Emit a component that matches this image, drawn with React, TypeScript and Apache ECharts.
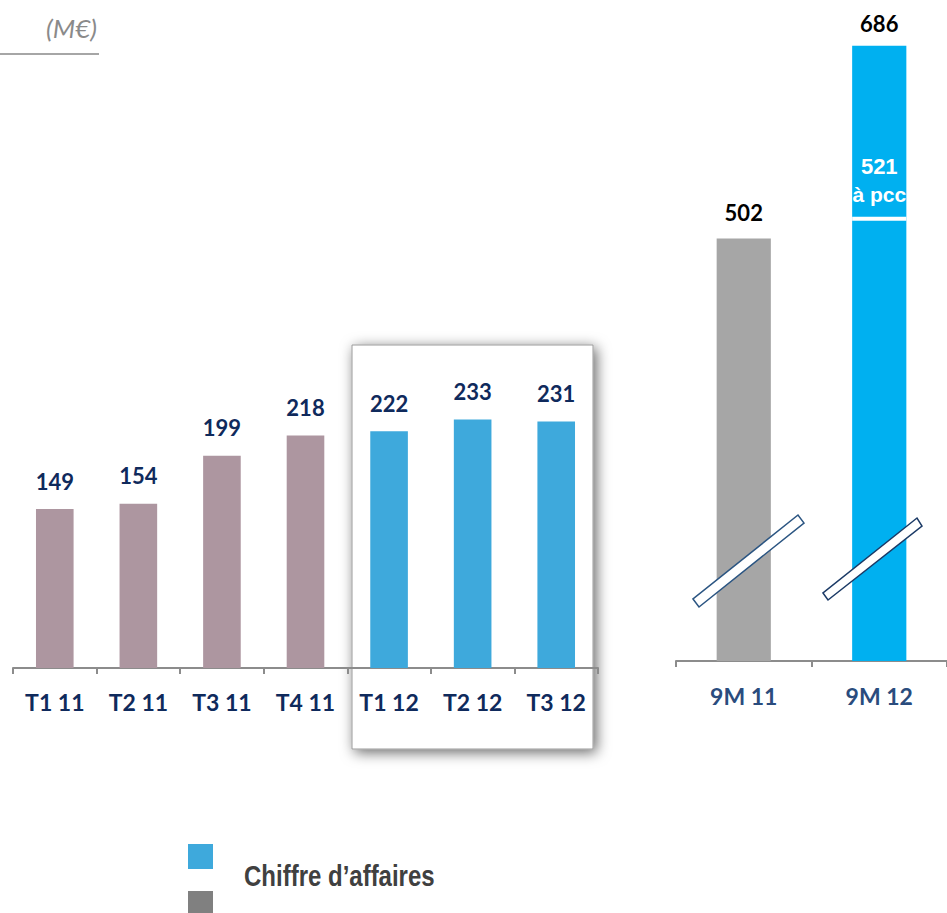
import React, { useEffect, useRef } from "react";
import * as echarts from "echarts";

// ---- Data ----
const quarterCategories = ["T1 11", "T2 11", "T3 11", "T4 11", "T1 12", "T2 12", "T3 12"];
const quarterValues = [149, 154, 199, 218, 222, 233, 231];
const ninMonthCategories = ["9M 11", "9M 12"];
const nineMonthValues = [502, 686];
const pccCategory = ["9M 12"];
const pccValues = [521];
const pccLabel = "à pcc";
const unitLabel = "(M€)";
const legendLabel = "Chiffre d’affaires";

const MAUVE = "#AD96A0";
const BLUE_Q = "#3EA9DC";
const GRAY_9M = "#A6A6A6";
const CYAN_9M = "#00B0F0";
const NAVY = "#0F2A5C";

export default function App() {
  const ref = useRef<HTMLDivElement>(null);

  useEffect(() => {
    if (!ref.current) return;
    const chart = echarts.init(ref.current, null, { renderer: "svg" });

    const labelFont = { fontFamily: "Lato", fontWeight: "bold" as const };

    const option: any = {
      animation: false,
      backgroundColor: "#ffffff",
      grid: [
        { left: 13, width: 585, top: 28, bottom: 245 },
        { left: 676, width: 272, top: 31, bottom: 252 },
      ],
      xAxis: [
        {
          gridIndex: 0,
          type: "category",
          data: quarterCategories,
          axisLine: { lineStyle: { color: "#8C8C8C", width: 2 } },
          axisTick: { show: true, length: 6, lineStyle: { color: "#8C8C8C", width: 2 } },
          axisLabel: { color: NAVY, fontSize: 23, margin: 22, ...labelFont },
        },
        {
          gridIndex: 1,
          type: "category",
          data: ninMonthCategories,
          axisLine: { lineStyle: { color: "#8C8C8C", width: 2 } },
          axisTick: { show: true, length: 6, lineStyle: { color: "#8C8C8C", width: 2 } },
          axisLabel: { color: "#2A4C7D", fontSize: 23, margin: 23, ...labelFont },
        },
      ],
      yAxis: [
        { gridIndex: 0, type: "value", min: 0, max: 600, show: false, splitLine: { show: false } },
        { gridIndex: 1, type: "value", min: 99, max: 700, show: false, splitLine: { show: false } },
      ],
      series: [
        {
          type: "bar",
          xAxisIndex: 0,
          yAxisIndex: 0,
          barWidth: "45%",
          data: quarterValues.map((v, i) => ({
            value: v,
            itemStyle: { color: i < 4 ? MAUVE : BLUE_Q },
          })),
          label: {
            show: true,
            position: "top",
            distance: 17,
            color: NAVY,
            fontSize: 22,
            ...labelFont,
          },
          z: 3,
        },
        {
          type: "bar",
          xAxisIndex: 1,
          yAxisIndex: 1,
          barWidth: "40%",
          data: nineMonthValues.map((v, i) => ({
            value: v,
            itemStyle: { color: i === 0 ? GRAY_9M : CYAN_9M },
            label: { distance: i === 0 ? 15 : 11 },
          })),
          label: {
            show: true,
            position: "top",
            distance: 13,
            color: "#000000",
            fontSize: 22,
            ...labelFont,
          },
          z: 3,
        },
        {
          type: "custom",
          xAxisIndex: 1,
          yAxisIndex: 1,
          data: pccCategory.map((c, i) => [c, pccValues[i]]),
          z: 5,
          renderItem: (params: any, api: any) => {
            const p = api.coord([api.value(0), api.value(1)]);
            const band = api.size([1, 0])[0];
            const w = band * 0.4;
            return {
              type: "group",
              children: [
                {
                  type: "rect",
                  shape: { x: p[0] - w / 2, y: p[1] - 2, width: w, height: 4 },
                  style: { fill: "#ffffff" },
                },
                {
                  type: "text",
                  x: p[0],
                  y: p[1] - 52,
                  style: {
                    text: String(pccValues[params.dataIndex]),
                    fill: "#ffffff",
                    font: 'bold 22px "Liberation Sans", Arial, sans-serif',
                    align: "center",
                    verticalAlign: "middle",
                  },
                },
                {
                  type: "text",
                  x: p[0],
                  y: p[1] - 24,
                  style: {
                    text: pccLabel,
                    fill: "#ffffff",
                    font: 'bold 21px "Liberation Sans", Arial, sans-serif',
                    align: "center",
                    verticalAlign: "middle",
                  },
                },
              ],
            };
          },
        },
      ],
      graphic: [
        // highlight box behind 2012 quarters
        {
          type: "rect",
          z: -10,
          shape: { x: 352, y: 345, width: 241, height: 404 },
          style: {
            fill: "#ffffff",
            stroke: "#9a9a9a",
            lineWidth: 1,
            shadowBlur: 14,
            shadowOffsetX: 3,
            shadowOffsetY: 3,
            shadowColor: "rgba(0,0,0,0.6)",
          },
        },
        // unit label
        {
          type: "text",
          z: 10,
          x: 97,
          y: 28,
          style: {
            text: unitLabel,
            fill: "#8A8A8A",
            font: 'italic 26px Lato, sans-serif',
            align: "right",
            verticalAlign: "middle",
          },
        },
        {
          type: "line",
          z: 10,
          shape: { x1: 0, y1: 54, x2: 99, y2: 54 },
          style: { stroke: "#A6A6A6", lineWidth: 2 },
        },
        // axis-break marks
        {
          type: "polygon",
          z: 20,
          shape: { points: [[693, 599], [699, 607], [804, 523], [798, 515]] },
          style: { fill: "#ffffff", stroke: "#2B5582", lineWidth: 1.5 },
        },
        {
          type: "polygon",
          z: 20,
          shape: { points: [[823, 593], [828, 600], [922, 526], [917, 518]] },
          style: { fill: "#ffffff", stroke: "#1B3A66", lineWidth: 1.5 },
        },
        // legend
        {
          type: "rect",
          z: 10,
          shape: { x: 188, y: 844, width: 25, height: 25 },
          style: { fill: BLUE_Q },
        },
        {
          type: "rect",
          z: 10,
          shape: { x: 188, y: 891, width: 25, height: 25 },
          style: { fill: "#808080" },
        },
        {
          type: "text",
          z: 10,
          x: 244,
          y: 876,
          scaleY: 1.2,
          style: {
            text: legendLabel,
            fill: "#404040",
            font: 'bold 24px "Liberation Sans", Arial, sans-serif',
            align: "left",
            verticalAlign: "middle",
          },
        },
      ],
    };

    chart.setOption(option);
    return () => chart.dispose();
  }, []);

  return (
    <div
      ref={ref}
      style={{ position: "absolute", left: 0, top: 0, width: 947, height: 913 }}
    />
  );
}
